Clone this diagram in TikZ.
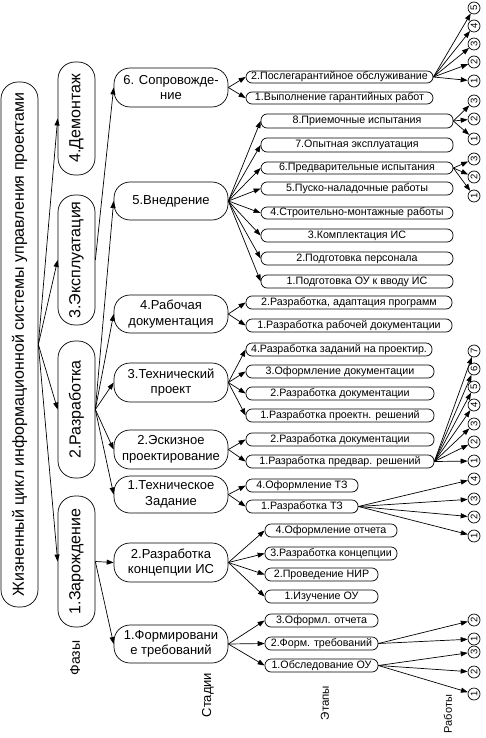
\documentclass[tikz,border=0pt]{standalone}
\usepackage{fontspec}
\setmainfont{Liberation Sans}
\usetikzlibrary{arrows.meta}
\newcommand{\mkbox}[7]{\pgfmathsetmacro\bw{#4-#2}\pgfmathsetmacro\bh{#5-#3}\node[#6, minimum width=\bw pt, minimum height=\bh pt] (#1) at ({(#2+#4)/2},{(#3+#5)/2}) {#7};}
\newcommand{\mkvbox}[7]{\pgfmathsetmacro\bw{#4-#2}\pgfmathsetmacro\bh{#5-#3}\node[#6, minimum width=\bh pt, minimum height=\bw pt] (#1) at ({(#2+#4)/2},{(#3+#5)/2}) {#7};}
\begin{document}
\begin{tikzpicture}[x=1pt,y=-1pt,
  stepbox/.style={draw, line width=0.7pt, rounded corners=6pt, inner sep=0pt, font=\fontsize{10.7}{11}\selectfont, align=center},
  stagebox/.style={draw, line width=0.7pt, rounded corners=16pt, inner sep=0pt, font=\fontsize{13}{15.5}\selectfont, align=center},
  phasebox/.style={draw, line width=0.7pt, rounded corners=17pt, inner sep=0pt, rotate=90, font=\fontsize{16}{17}\selectfont},
  rootbox/.style={draw, line width=0.7pt, rounded corners=17pt, inner sep=0pt, rotate=90, font=\fontsize{16}{17}\selectfont},
  num/.style={draw, circle, line width=0.7pt, minimum size=12pt, inner sep=0pt, font=\fontsize{9.5}{9.5}\selectfont, rotate=90},
  arr/.style={-{Triangle[length=7pt,width=5pt]}, line width=0.7pt},
  lbl/.style={rotate=90, inner sep=0pt}
]
\useasboundingbox (0,0) rectangle (486,738);
% root and phases
\mkvbox{root}{1}{82}{38}{607}{rootbox}{Жизненный цикл информационной системы управления проектами}
\mkvbox{dem}{58}{62}{95}{175}{phasebox}{4.Демонтаж}
\mkvbox{expl}{58}{195}{95}{325}{phasebox}{3.Эксплуатация}
\mkvbox{razr}{58}{341}{95}{478}{phasebox}{2.Разработка}
\mkvbox{zar}{58}{496}{95}{627}{phasebox}{1.Зарождение}
% stages
\mkbox{sop}{114}{68}{228}{107}{stagebox}{6. Сопровожде-\\ние}
\mkbox{vned}{114}{182}{228}{220}{stagebox}{5.Внедрение}
\mkbox{rab}{114}{295}{228}{333}{stagebox}{4.Рабочая\\документация}
\mkbox{tehp}{114}{363}{228}{402}{stagebox}{3.Технический\\проект}
\mkbox{esk}{114}{430}{228}{469}{stagebox}{2.Эскизное\\проектирование}
\mkbox{tz}{114}{476}{228}{513}{stagebox}{1.Техническое\\Задание}
\mkbox{konc}{114}{543}{228}{582}{stagebox}{2.Разработка\\концепции ИС}
\mkbox{form}{114}{625}{228}{663}{stagebox}{1.Формировани\\е требований}
% steps
\mkbox{psl}{246}{71}{433}{83}{stepbox}{2.Послегарантийное обслуживание}
\mkbox{vyp}{246}{92}{433}{104}{stepbox}{1.Выполнение гарантийных работ}
\mkbox{s8}{261}{114}{453}{128}{stepbox}{8.Приемочные испытания}
\mkbox{s7}{261}{138}{453}{152}{stepbox}{7.Опытная эксплуатация}
\mkbox{s6}{261}{162}{453}{174}{stepbox}{6.Предварительные испытания}
\mkbox{s5}{261}{182}{453}{195}{stepbox}{5.Пуско-наладочные работы}
\mkbox{s4}{261}{207}{453}{219}{stepbox}{4.Строительно-монтажные работы}
\mkbox{s3}{261}{229}{453}{242}{stepbox}{3.Комплектация ИС}
\mkbox{s2}{261}{252}{453}{265}{stepbox}{2.Подготовка персонала}
\mkbox{s1}{261}{275}{453}{288}{stepbox}{1.Подготовка ОУ к вводу ИС}
\mkbox{r2}{246}{296}{452}{309}{stepbox}{2.Разработка, адаптация программ}
\mkbox{r1}{246}{319}{452}{332}{stepbox}{1.Разработка рабочей документации}
\mkbox{t4}{246}{343}{432}{356}{stepbox}{4.Разработка заданий на проектир.}
\mkbox{t3}{246}{365}{434}{378}{stepbox}{3.Оформление документации}
\mkbox{t2}{246}{387}{434}{400}{stepbox}{2.Разработка документации}
\mkbox{t1}{246}{409}{434}{422}{stepbox}{1.Разработка проектн. решений}
\mkbox{e2}{246}{433}{434}{446}{stepbox}{2.Разработка документации}
\mkbox{e1}{246}{455}{434}{468}{stepbox}{1.Разработка предвар. решений}
\mkbox{z4}{246}{479}{358}{492}{stepbox}{4.Оформление ТЗ}
\mkbox{z1}{246}{500}{358}{513}{stepbox}{1.Разработка ТЗ}
\mkbox{k4}{265}{524}{397}{537}{stepbox}{4.Оформление отчета}
\mkbox{k3}{265}{547}{397}{560}{stepbox}{3.Разработка концепции}
\mkbox{k2}{265}{568}{378}{581}{stepbox}{2.Проведение НИР}
\mkbox{k1}{265}{590}{378}{603}{stepbox}{1.Изучение ОУ}
\mkbox{f3}{265}{614}{378}{627}{stepbox}{3.Оформл. отчета}
\mkbox{f2}{265}{637}{378}{650}{stepbox}{2.Форм. требований}
\mkbox{f1}{265}{659}{378}{672}{stepbox}{1.Обследование ОУ}
% works (circles)
\foreach \n/\y/\t in {a5/8/5,a4/26/4,a3/44/3,a2/62/2,a1/81/1,
  b3/101/3,b2/119/2,b1/139/1, c3/159/3,c2/177/2,c1/196/1,
  d7/351/7,d6/369/6,d5/387/5,d4/405/4,d3/424/3,d2/442/2,d1/461/1,
  g4/479/4,g3/499/3,g2/517/2,g1/536/1, h2/620/2,h1/639/1,
  i3/652/3,i2/672/2,i1/694/1}
  {\node[num] (\n) at (474,\y) {\t};}
% labels
\node[lbl, font=\fontsize{14}{14}\selectfont] (lf) at (75,658) {Фазы};
\node[lbl, font=\fontsize{13}{13}\selectfont] (ls) at (208,695) {Стадии};
\node[lbl, font=\fontsize{11.5}{11}\selectfont] (le) at (325,703) {Этапы};
\node[lbl, font=\fontsize{11}{11}\selectfont] (lr) at (448,714) {Работы};
% root -> phases
\foreach \t in {dem,expl,razr,zar} \draw[arr] (root.south) -- (\t.north);
% phases -> stages
\draw[arr] (expl.south) -- (sop.west);
\foreach \t in {vned,rab,tehp,esk,tz} \draw[arr] (razr.south) -- (\t.west);
\foreach \t in {konc,form} \draw[arr] (zar.south) -- (\t.west);
% stages -> steps
\foreach \t in {psl,vyp} \draw[arr] (sop.east) -- (\t.west);
\foreach \t in {s8,s7,s6,s5,s4,s3,s2,s1} \draw[arr] (vned.east) -- (\t.west);
\foreach \t in {r2,r1} \draw[arr] (rab.east) -- (\t.west);
\foreach \t in {t4,t3,t2,t1} \draw[arr] (tehp.east) -- (\t.west);
\foreach \t in {e2,e1} \draw[arr] (esk.east) -- (\t.west);
\foreach \t in {z4,z1} \draw[arr] (tz.east) -- (\t.west);
\foreach \t in {k4,k3,k2,k1} \draw[arr] (konc.east) -- (\t.west);
\foreach \t in {f3,f2,f1} \draw[arr] (form.east) -- (\t.west);
% steps -> works
\foreach \t in {a5,a4,a3,a2,a1} \draw[arr] (psl.east) -- (\t);
\foreach \t in {b3,b2,b1} \draw[arr] (s8.east) -- (\t);
\foreach \t in {c3,c2,c1} \draw[arr] (s6.east) -- (\t);
\foreach \t in {d7,d6,d5,d4,d3,d2,d1} \draw[arr] (e1.east) -- (\t);
\foreach \t in {g4,g3,g2,g1} \draw[arr] (z1.east) -- (\t);
\foreach \t in {h2,h1} \draw[arr] (f2.east) -- (\t);
\foreach \t in {i3,i2,i1} \draw[arr] (f1.east) -- (\t);
\end{tikzpicture}
\end{document}
